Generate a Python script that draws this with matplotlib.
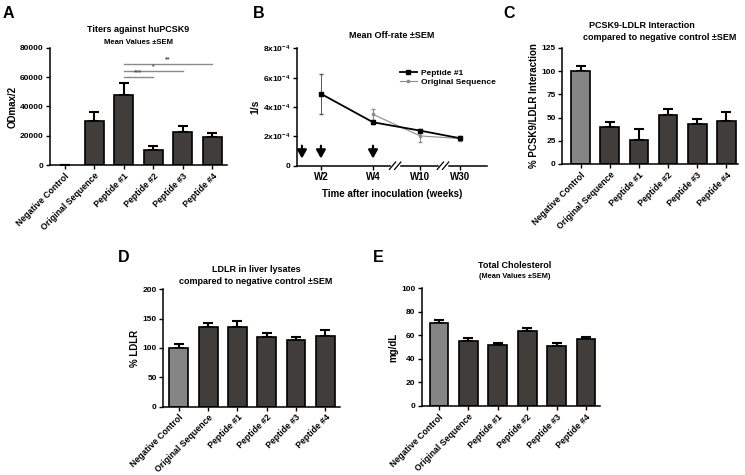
import matplotlib
matplotlib.use("Agg")
import matplotlib.pyplot as plt
from matplotlib.lines import Line2D

plt.rcParams['font.family'] = ['Liberation Sans', 'DejaVu Sans']
plt.rcParams['font.weight'] = 'bold'
plt.rcParams['axes.labelweight'] = 'bold'
plt.rcParams['mathtext.fontset'] = 'custom'
plt.rcParams['mathtext.rm'] = 'Liberation Sans:bold'
plt.rcParams['mathtext.default'] = 'rm'

# ---- data ----
groups = ["Negative Control", "Original Sequence", "Peptide #1",
          "Peptide #2", "Peptide #3", "Peptide #4"]

titers = [0, 30100, 47900, 10250, 22800, 18900]
titers_sem = [0, 6300, 8400, 2750, 3900, 3200]
sig_pairs = [(2, 3, "***", 60400), (2, 4, "*", 64500), (2, 5, "**", 69100)]

weeks = ["W2", "W4", "W10", "W30"]
week_pos = [2.0, 4.0, 5.81, 7.35]
arrow_pos = [1.27, 2.0, 4.0]
break_pos = [4.85, 6.69]
pep1_rate = [4.9e-4, 2.96e-4, 2.39e-4, 1.87e-4]
pep1_sem = [1.35e-4, 0.1e-4, 0.1e-4, 0.1e-4]
orig_rate = [3.5e-4, 2.03e-4, 1.85e-4]
orig_sem = [0.36e-4, 0.4e-4, 0.17e-4]

interaction = [100, 40, 26.1, 53, 43, 46.2]
interaction_sem = [5.7, 5.3, 11.4, 6.8, 5.7, 10]

ldlr = [100, 136.4, 135.2, 118.2, 113.6, 120.5]
ldlr_sem = [6.8, 5.6, 11.4, 6.8, 5.7, 10.2]

chol = [70.8, 55.5, 51.5, 64, 51.3, 57]
chol_sem = [2.3, 2.5, 2.3, 2.0, 2.5, 1.8]

W, H = 745, 475
fig = plt.figure(figsize=(W / 100, H / 100), dpi=100)


def px_axes(x0, y0, x1, y1):
    return fig.add_axes([x0 / W, 1 - y1 / H, (x1 - x0) / W, (y1 - y0) / H])


def style(ax):
    for s in ['top', 'right']:
        ax.spines[s].set_visible(False)
    for s in ['left', 'bottom']:
        ax.spines[s].set_linewidth(1.1)
    ax.tick_params(direction='out', length=3, width=1, labelsize=6, pad=1.5)


def bar_panel(ax, vals, sems, ylim, yticks, ylabel, xlim):
    style(ax)
    x = list(range(len(groups)))
    colors = ['#858585'] + ['#403d3b'] * (len(groups) - 1)
    # zero-height bars get no outline (nothing drawn there in the original)
    widths = [1.2 if v > 0 else 0 for v in vals]
    ax.bar(x, vals, width=0.64, color=colors, edgecolor='black',
           linewidth=widths, zorder=2)
    ax.errorbar(x, vals, yerr=[[0] * len(vals), sems], fmt='none',
                ecolor='black', elinewidth=1.5, capsize=3.6, capthick=1.5,
                zorder=1)
    ax.set_xlim(*xlim)
    ax.set_ylim(*ylim)
    ax.set_yticks(yticks)
    ax.set_xticks(x)
    ax.set_xticklabels(groups, rotation=45, ha='right', rotation_mode='anchor',
                       fontsize=6.3)
    ax.set_ylabel(ylabel, fontsize=7, labelpad=2)


# ---- A ----
axA = px_axes(50, 48, 227, 165)
bar_panel(axA, titers, titers_sem, (0, 80000), range(0, 80001, 20000),
          "ODmax/2", (-0.5, 5.5))
for a, b, lab, y in sig_pairs:
    axA.plot([a, b], [y, y], color='#8a8a8a', lw=1, clip_on=False)
    axA.text((a + b) / 2, y + 400, lab, ha='center', va='bottom', fontsize=5,
             color='#555555')
fig.text(138 / W, 1 - 30 / H, "Titers against huPCSK9", ha='center',
         va='center', fontsize=6.5)
fig.text(138 / W, 1 - 42 / H, "Mean Values \u00b1SEM", ha='center',
         va='center', fontsize=5.5)

# ---- B ----
axB = px_axes(297, 48.3, 487, 165.7)
style(axB)
axB.errorbar(week_pos[1:], orig_rate, yerr=orig_sem, color='#8c8c8c', lw=0.8,
             marker='s', ms=2, capsize=1.5, elinewidth=0.8, zorder=2)
axB.errorbar(week_pos, pep1_rate, yerr=pep1_sem, color='black', lw=1.3,
             marker='s', ms=2.5, capsize=1.5, elinewidth=0.7, ecolor='#555555',
             zorder=3)
axB.set_xlim(1.08, 8.38)
axB.set_ylim(0, 8e-4)
axB.set_yticks([0, 2e-4, 4e-4, 6e-4, 8e-4])
axB.set_yticklabels(["0", r"2x10$^{-4}$", r"4x10$^{-4}$", r"6x10$^{-4}$",
                     r"8x10$^{-4}$"])
axB.set_xticks(week_pos)
axB.set_xticklabels(weeks, fontsize=7)
axB.set_ylabel("1/s", fontsize=7.5, labelpad=2)
axB.set_xlabel("Time after inoculation (weeks)", fontsize=7, labelpad=5)
for xa in arrow_pos:
    axB.annotate('', xy=(xa, 0.3e-4), xytext=(xa, 1.55e-4),
                 arrowprops=dict(arrowstyle='-|>,head_width=0.28,head_length=0.5',
                                 lw=1.6, color='black'))
for xb in break_pos:
    axB.plot([xb - 0.12, xb + 0.12], [0, 0], color='white', lw=2.5,
             clip_on=False, zorder=5)
    for dx in (-0.1, 0.1):
        axB.plot([xb + dx - 0.12, xb + dx + 0.12], [-0.25e-4, 0.25e-4],
                 color='black', lw=0.9, clip_on=False, zorder=6)
leg_handles = [
    Line2D([], [], color='black', lw=1.3, marker='s', ms=2.5),
    Line2D([], [], color='#8c8c8c', lw=0.8, marker='s', ms=2),
]
axB.legend(leg_handles, ["Peptide #1", "Original Sequence"], loc='upper left',
           bbox_to_anchor=(0.52, 0.86), frameon=False, fontsize=6,
           handlelength=2, handletextpad=0.5, labelspacing=0.15, borderpad=0)
fig.text(392 / W, 1 - 35 / H, "Mean Off-rate \u00b1SEM", ha='center',
         va='center', fontsize=6.5)

# ---- C ----
axC = px_axes(562, 48, 738, 164)
bar_panel(axC, interaction, interaction_sem, (0, 125), range(0, 126, 25),
          "% PCSK9/LDLR Interaction", (-0.64, 5.4))
fig.text(642 / W, 1 - 25 / H, "PCSK9-LDLR Interaction", ha='center',
         va='center', fontsize=6.5)
fig.text(660 / W, 1 - 37 / H, "compared to negative control \u00b1SEM",
         ha='center', va='center', fontsize=6.5)

# ---- D ----
axD = px_axes(163, 289.3, 340, 406.7)
bar_panel(axD, ldlr, ldlr_sem, (0, 200), range(0, 201, 50), "% LDLR",
          (-0.54, 5.5))
fig.text(256 / W, 1 - 269 / H, "LDLR in liver lysates", ha='center',
         va='center', fontsize=6.5)
fig.text(256 / W, 1 - 282 / H, "compared to negative control \u00b1SEM",
         ha='center', va='center', fontsize=6.5)

# ---- E ----
axE = px_axes(421.7, 288.3, 600, 406)
bar_panel(axE, chol, chol_sem, (0, 100), range(0, 101, 20), "mg/dL",
          (-0.59, 5.48))
fig.text(515 / W, 1 - 265 / H, "Total Cholesterol", ha='center', va='center',
         fontsize=6.5)
fig.text(515 / W, 1 - 277 / H, "(Mean Values \u00b1SEM)", ha='center',
         va='center', fontsize=5.3)

# ---- panel letters ----
for lab, x, y in [("A", 3, 13), ("B", 253, 13), ("C", 503, 13),
                  ("D", 118, 257), ("E", 373, 257)]:
    fig.text(x / W, 1 - y / H, lab, ha='left', va='center', fontsize=11.5,
             fontweight='bold')

fig.savefig("out.png", dpi=100)
